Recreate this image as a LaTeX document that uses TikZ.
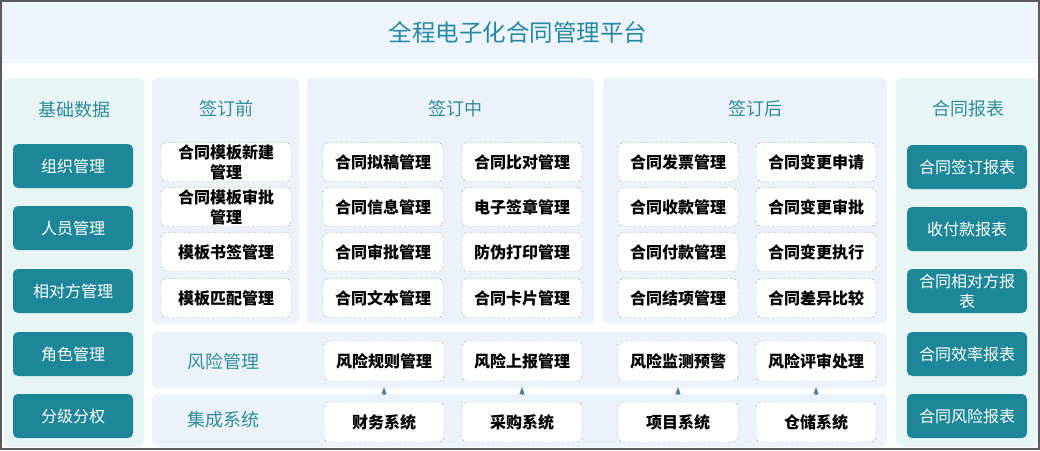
\documentclass[tikz,border=0pt]{standalone}
\usepackage{fontspec}
\newfontfamily\cjk{Noto Sans CJK SC}
\usetikzlibrary{arrows.meta}
\definecolor{titlebg}{HTML}{EEF4FB}
\definecolor{sidebg}{HTML}{E7F5F5}
\definecolor{midbg}{HTML}{EBF2FA}
\definecolor{tealc}{HTML}{1D8799}
\definecolor{headc}{HTML}{2E8C9C}
\definecolor{titlec}{HTML}{2589A6}
\definecolor{dashc}{HTML}{ABABAB}
\definecolor{arrowc}{HTML}{4F7C99}
\definecolor{framec}{HTML}{5A5A5A}

\begin{document}
\begin{tikzpicture}[x=1pt,y=-1pt,>={Triangle[length=7pt,width=5pt]},
  panel/.style={rounded corners=6pt},
  head/.style={font=\cjk\fontsize{18}{20}\selectfont,text=headc},
  tealbox/.style={fill=tealc,rounded corners=5pt,minimum width=120pt,minimum height=44pt,
    inner sep=0pt,text=white,align=center,font=\cjk\fontsize{16}{20}\selectfont},
  item/.style={draw=dashc,dash pattern=on 3pt off 2pt,fill=white,rounded corners=5pt,minimum width=120pt,
    minimum height=39pt,inner sep=0pt,align=center,font=\cjk\bfseries\fontsize{16}{20}\selectfont},
  wide/.style={item,minimum width=130pt},
  up/.style={->,draw=arrowc,fill=arrowc,shorten <=8pt,shorten >=6pt}]
  \useasboundingbox (0,0) rectangle (1040,450);
  \fill[white] (0,0) rectangle (1040,450);
  \fill[titlebg] (2,2) rectangle (1038,63);
  \fill[sidebg,panel] (4,78) rectangle (144,447);
  \fill[midbg,panel] (152,78) rectangle (299,324);
  \fill[midbg,panel] (307,78) rectangle (594,324);
  \fill[midbg,panel] (603,78) rectangle (887,324);
  \fill[sidebg,panel] (896,78) rectangle (1038,447);
  \fill[midbg,panel] (152,332) rectangle (887,388);
  \fill[midbg,panel] (152,394) rectangle (887,447);
  \draw[framec,line width=1.6pt] (0.8,0.8) rectangle (1039.2,449.2);

  \node[font=\cjk\fontsize{23.5}{26}\selectfont,text=titlec] at (518,32) (title) {全程电子化合同管理平台};

  \node[head] at (74,110) (base) {基础数据};
  \node[head] at (226,109) (pre) {签订前};
  \node[head] at (455,109) (mid) {签订中};
  \node[head] at (755,109) (post) {签订后};
  \node[head] at (968,109) (rep) {合同报表};
  \node[head] at (223,362) (risk) {风险管理};
  \node[head] at (223,420) (integ) {集成系统};

  \node[tealbox] at (73,166) (org) {组织管理};
  \node[tealbox] at (73,228) (staff) {人员管理};
  \node[tealbox] at (73,291) (party) {相对方管理};
  \node[tealbox] at (73,354) (role) {角色管理};
  \node[tealbox] at (73,416) (grade) {分级分权};

  \node[tealbox] at (967,167) (rsign) {合同签订报表};
  \node[tealbox] at (967,229) (rpay) {收付款报表};
  \node[tealbox] at (967,291) (rparty) {合同相对方报\\表};
  \node[tealbox] at (967,354) (reff) {合同效率报表};
  \node[tealbox] at (967,416) (rrisk) {合同风险报表};

  \node[wide] at (226,162) (tnew) {合同模板新建\\管理};
  \node[wide] at (226,207) (tappr) {合同模板审批\\管理};
  \node[wide] at (226,252) (tmark) {模板书签管理};
  \node[wide] at (226,298) (tmatch) {模板匹配管理};

  \node[item] at (383,162) (draft) {合同拟稿管理};
  \node[item] at (383,207) (info) {合同信息管理};
  \node[item] at (383,252) (appr) {合同审批管理};
  \node[item] at (383,298) (text) {合同文本管理};
  \node[item] at (522,162) (cmp) {合同比对管理};
  \node[item] at (522,207) (seal) {电子签章管理};
  \node[item] at (522,252) (print) {防伪打印管理};
  \node[item] at (522,298) (card) {合同卡片管理};

  \node[item] at (678,162) (inv) {合同发票管理};
  \node[item] at (678,207) (recv) {合同收款管理};
  \node[item] at (678,252) (pay) {合同付款管理};
  \node[item] at (678,298) (close) {合同结项管理};
  \node[item] at (816,162) (chreq) {合同变更申请};
  \node[item] at (816,207) (chappr) {合同变更审批};
  \node[item] at (816,252) (chexe) {合同变更执行};
  \node[item] at (816,298) (diff) {合同差异比较};

  \node[item,minimum height=40pt] at (384,361) (rule) {风险规则管理};
  \node[item,minimum height=40pt] at (522,361) (report) {风险上报管理};
  \node[item,minimum height=40pt] at (678,361) (monitor) {风险监测预警};
  \node[item,minimum height=40pt] at (816,361) (review) {风险评审处理};

  \node[item,minimum height=40pt] at (384,422) (fin) {财务系统};
  \node[item,minimum height=40pt] at (522,422) (buy) {采购系统};
  \node[item,minimum height=40pt] at (678,422) (proj) {项目系统};
  \node[item,minimum height=40pt] at (816,422) (store) {仓储系统};

  \draw[up] (fin) -- (rule);
  \draw[up] (buy) -- (report);
  \draw[up] (proj) -- (monitor);
  \draw[up] (store) -- (review);
\end{tikzpicture}
\end{document}
